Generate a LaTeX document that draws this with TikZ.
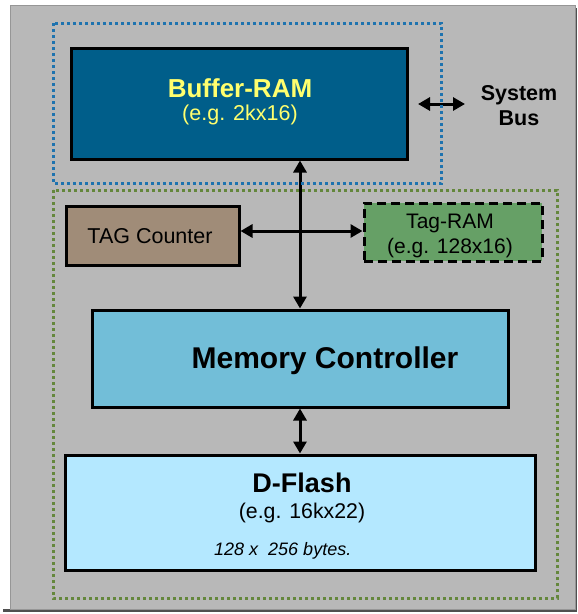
\documentclass[tikz,border=0pt]{standalone}
\usepackage{fontspec}
\setmainfont{Liberation Sans}
\usetikzlibrary{arrows.meta}
\definecolor{bggray}{RGB}{184,184,184}
\definecolor{bgedge}{RGB}{150,150,150}
\definecolor{shadowc}{RGB}{80,80,80}
\definecolor{bufblue}{RGB}{0,94,138}
\definecolor{bufyellow}{RGB}{255,255,110}
\definecolor{tagbrown}{RGB}{160,140,120}
\definecolor{taggreen}{RGB}{102,160,102}
\definecolor{mcblue}{RGB}{114,190,216}
\definecolor{dfblue}{RGB}{180,232,255}
\definecolor{dotblue}{RGB}{30,115,175}
\definecolor{dotgreen}{RGB}{100,135,60}
\tikzset{
  blockbox/.style={draw=black, line width=3pt, inner sep=0pt, rectangle},
  biarrow/.style={line width=3pt, {Triangle[length=12pt,width=13pt]}-{Triangle[length=12pt,width=13pt]}},
  dotframe/.style={line width=3pt, dash pattern=on 3pt off 3pt},
  txt/.style={anchor=base, inner sep=0pt, text=black},
}
\newcommand{\fs}[1]{\fontsize{#1}{#1}\selectfont}
\begin{document}
\begin{tikzpicture}[x=1pt, y=-1pt]
\useasboundingbox (0,0) rectangle (578,614);
% background panel
\fill[white] (0,0) rectangle (578,614);
\draw[shadowc, line width=2.5pt] (576,8) -- (576,610.5) -- (3,610.5);
\filldraw[fill=bggray, draw=bgedge, line width=0.8pt] (10,5) rectangle (575,609);

% blocks
\node[blockbox, fill=bufblue, minimum width=336pt, minimum height=111pt] (buf) at (239,103.5) {};
\node[blockbox, fill=tagbrown, minimum width=173pt, minimum height=59pt] (tagc) at (152.5,235.5) {};
\node[blockbox, fill=taggreen, dash pattern=on 9pt off 5pt, minimum width=178pt, minimum height=58pt] (tagr) at (453,232) {};
\node[blockbox, fill=mcblue, minimum width=416pt, minimum height=97pt] (mc) at (300,358.5) {};
\node[blockbox, fill=dfblue, minimum width=470pt, minimum height=115pt] (df) at (300,512.5) {};

% texts
\node[txt, text=bufyellow, font=\fs{26}\bfseries] (buft1) at (240,97) {Buffer-RAM};
\node[txt, text=bufyellow, font=\fs{21.5}] (buft2) at (240,120) {(e.g. 2kx16)};
\node[txt, font=\fs{21.5}] (tagct) at (150,243) {TAG Counter};
\node[txt, font=\fs{21}] (tagrt1) at (450,228) {Tag-RAM};
\node[txt, font=\fs{21}] (tagrt2) at (450,253) {(e.g. 128x16)};
\node[txt, font=\fs{30}\bfseries] (mct) at (325,368) {Memory Controller};
\node[txt, font=\fs{27}\bfseries] (dft1) at (302,492) {D-Flash};
\node[txt, font=\fs{21.3}] (dft2) at (302,518) {(e.g. 16kx22)};
\node[txt, anchor=base west, font=\fs{18}\itshape] (dft3) at (214,555) {128 x\ \ 256 bytes.};
\node[txt, font=\fs{21.5}\bfseries] (sys1) at (519,100) {System};
\node[txt, font=\fs{21.5}\bfseries] (sys2) at (519,125) {Bus};

% connectors
\coordinate (vx) at (300,0);
\coordinate (hy) at (0,231);
\coordinate (sbl) at (418,104);
\coordinate (sbr) at (465,104);
\draw[biarrow] (buf.south -| vx) -- (mc.north -| vx);
\draw[biarrow] (tagc.east |- hy) -- (tagr.west |- hy);
\draw[biarrow] (mc.south) -- (df.north);
\draw[biarrow] (sbl) -- (sbr);

% dotted frames
\draw[dotframe, dotblue] (53,23) rectangle (441.5,183);
\draw[dotframe, dotgreen] (53,190) rectangle (557,598);
\end{tikzpicture}
\end{document}
